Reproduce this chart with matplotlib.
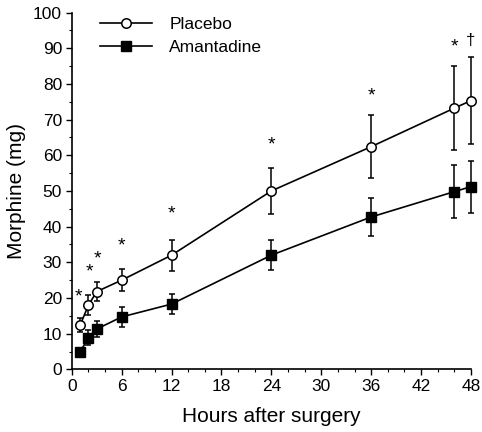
import matplotlib
matplotlib.use("Agg")
import matplotlib.pyplot as plt
from matplotlib.ticker import MultipleLocator

plt.rcParams['font.family'] = ['Liberation Sans', 'DejaVu Sans']

# Data (hours after surgery, morphine mg, SEM)
hours = [1, 2, 3, 6, 12, 24, 36, 46, 48]
placebo_mean = [12.4, 18.0, 21.8, 25.0, 32.0, 50.0, 62.4, 73.2, 75.3]
placebo_err = [2.0, 2.8, 2.7, 3.0, 4.3, 6.5, 8.8, 11.7, 12.2]
amantadine_mean = [4.9, 8.9, 11.3, 14.7, 18.3, 32.0, 42.7, 49.8, 51.2]
amantadine_err = [1.2, 2.0, 2.3, 2.7, 2.7, 4.2, 5.4, 7.5, 7.3]

# significance marks
sig_x = [0.8, 2.1, 3.1, 6, 12, 24, 36, 46, 48]
sig_y = [20.3, 27.3, 30.9, 34.6, 43.5, 62.9, 76.6, 90.4, 92.3]
sig_txt = ['*', '*', '*', '*', '*', '*', '*', '*', '\u2020']

fig = plt.figure(figsize=(4.82, 4.32), dpi=100)
ax = fig.add_axes([0.149, 0.145, 0.828, 0.826])

eb1 = ax.errorbar(hours, placebo_mean, yerr=placebo_err, color='black', lw=1.2,
                  marker='o', ms=6.8, mfc='white', mec='black', mew=1.1,
                  capsize=2.5, elinewidth=1.1, capthick=1.1, label='Placebo', zorder=3)
eb2 = ax.errorbar(hours, amantadine_mean, yerr=amantadine_err, color='black', lw=1.2,
                  marker='s', ms=6.8, mfc='black', mec='black',
                  capsize=2.5, elinewidth=1.1, capthick=1.1, label='Amantadine', zorder=3)
for eb in (eb1, eb2):
    for artist in eb.lines[0:1] + eb.lines[1] + eb.lines[2]:
        artist.set_clip_on(False)

for sx, sy, st in zip(sig_x, sig_y, sig_txt):
    ax.text(sx, sy, st, ha='center', va='center', fontsize=14 if st == '*' else 12)

ax.set_xlim(0, 48)
ax.set_ylim(0, 100)
ax.xaxis.set_major_locator(MultipleLocator(6))
ax.xaxis.set_minor_locator(MultipleLocator(2))
ax.yaxis.set_major_locator(MultipleLocator(10))
ax.yaxis.set_minor_locator(MultipleLocator(5))
ax.tick_params(which='major', direction='out', length=4, width=1, labelsize=12.5, pad=3)
ax.tick_params(which='minor', direction='out', length=2, width=0.8)

ax.spines['top'].set_visible(False)
ax.spines['right'].set_visible(False)
ax.spines['left'].set_linewidth(1.2)
ax.spines['bottom'].set_linewidth(1.2)

ax.set_xlabel('Hours after surgery', fontsize=15, labelpad=9)
ax.set_ylabel('Morphine (mg)', fontsize=15, labelpad=5)

handles, labels = ax.get_legend_handles_labels()
handles = [h[0] for h in handles]
ax.legend(handles, labels, loc='upper left', bbox_to_anchor=(0.07, 0.988),
          frameon=False, fontsize=12.5, handlelength=3.0, handletextpad=1.0,
          labelspacing=0.45, borderpad=0, borderaxespad=0)

fig.savefig('out.png', dpi=100)
